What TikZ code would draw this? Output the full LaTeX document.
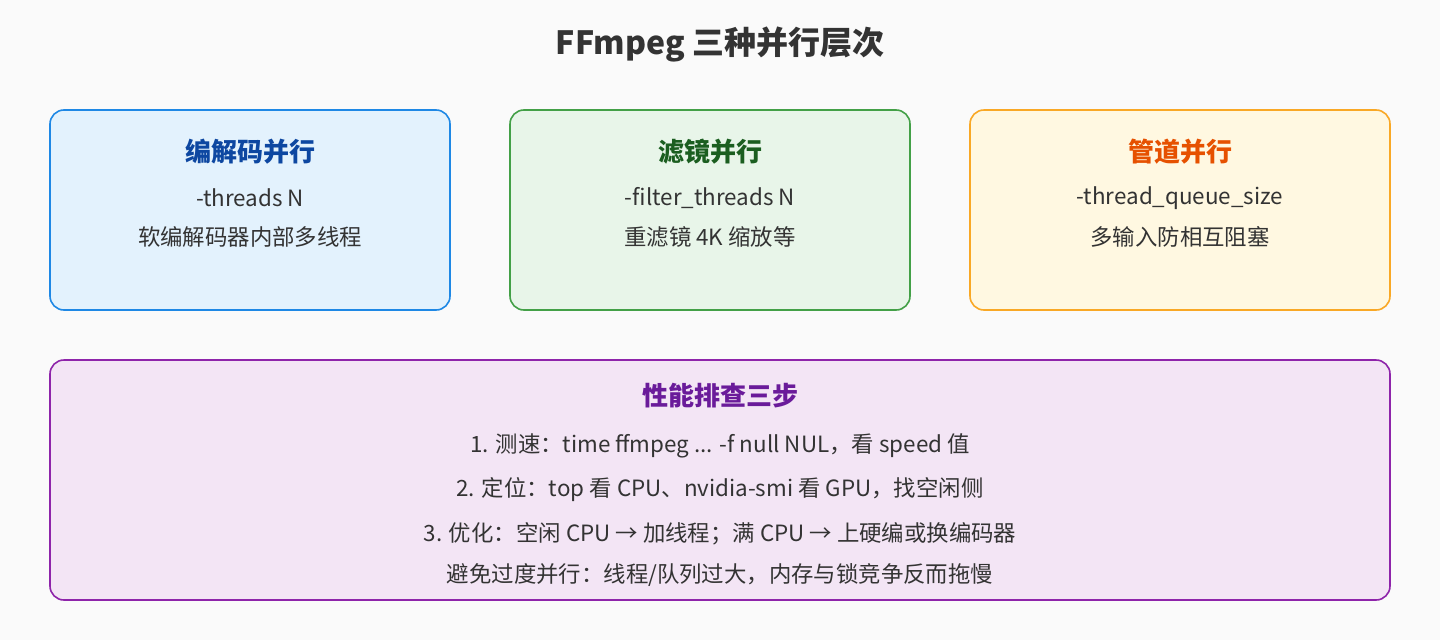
\documentclass[tikz,border=0pt]{standalone}
\usepackage{fontspec}
\setmainfont{Noto Sans CJK SC}
\begin{document}
\definecolor{bg}{HTML}{FAFAFA}
\definecolor{txt}{HTML}{333333}
\definecolor{bF}{HTML}{E3F2FD}\definecolor{bS}{HTML}{1E88E5}\definecolor{bT}{HTML}{0D47A1}
\definecolor{gF}{HTML}{E8F5E9}\definecolor{gS}{HTML}{43A047}\definecolor{gT}{HTML}{1B5E20}
\definecolor{oF}{HTML}{FFF8E1}\definecolor{oS}{HTML}{F9A825}\definecolor{oT}{HTML}{E65100}
\definecolor{pF}{HTML}{F3E5F5}\definecolor{pS}{HTML}{8E24AA}\definecolor{pT}{HTML}{6A1B9A}
\begin{tikzpicture}[x=1pt,y=-1pt,
  box/.style={draw,line width=1.6pt,rounded corners=14pt},
  head/.style={font=\fontsize{26}{30}\selectfont\bfseries},
  body/.style={font=\fontsize{22.4}{26}\selectfont,text=txt}]
\fill[bg] (0,0) rectangle (1440,640);
\useasboundingbox (0,0) rectangle (1440,640);
\node[font=\fontsize{32}{36}\selectfont\bfseries,text=txt] (title) at (720,45) {FFmpeg 三种并行层次};
\draw[box,draw=bS,fill=bF] (50,110) rectangle (450,310);
\draw[box,draw=gS,fill=gF] (510,110) rectangle (910,310);
\draw[box,draw=oS,fill=oF] (970,110) rectangle (1390,310);
\draw[box,draw=pS,fill=pF] (50,360) rectangle (1390,600);
\node[head,text=bT] (h1) at (250,152) {编解码并行};
\node[body] (a1) at (250,198) {-threads N};
\node[body] (a2) at (250,237) {软编解码器内部多线程};
\node[head,text=gT] (h2) at (710,152) {滤镜并行};
\node[body] (b1) at (710,198) {-filter\_threads N};
\node[body] (b2) at (710,237) {重滤镜 4K 缩放等};
\node[head,text=oT] (h3) at (1180,152) {管道并行};
\node[body] (c1) at (1180,198) {-thread\_queue\_size};
\node[body] (c2) at (1180,237) {多输入防相互阻塞};
\node[head,text=pT] (h4) at (720,396) {性能排查三步};
\node[body] (d1) at (720,446) {1. 测速：time ffmpeg ... -f null NUL，看 speed 值};
\node[body] (d2) at (720,490) {2. 定位：top 看 CPU、nvidia-smi 看 GPU，找空闲侧};
\node[body] (d3) at (720,534) {3. 优化：空闲 CPU → 加线程；满 CPU → 上硬编或换编码器};
\node[body] (d4) at (720,575) {避免过度并行：线程/队列过大，内存与锁竞争反而拖慢};
\end{tikzpicture}
\end{document}
